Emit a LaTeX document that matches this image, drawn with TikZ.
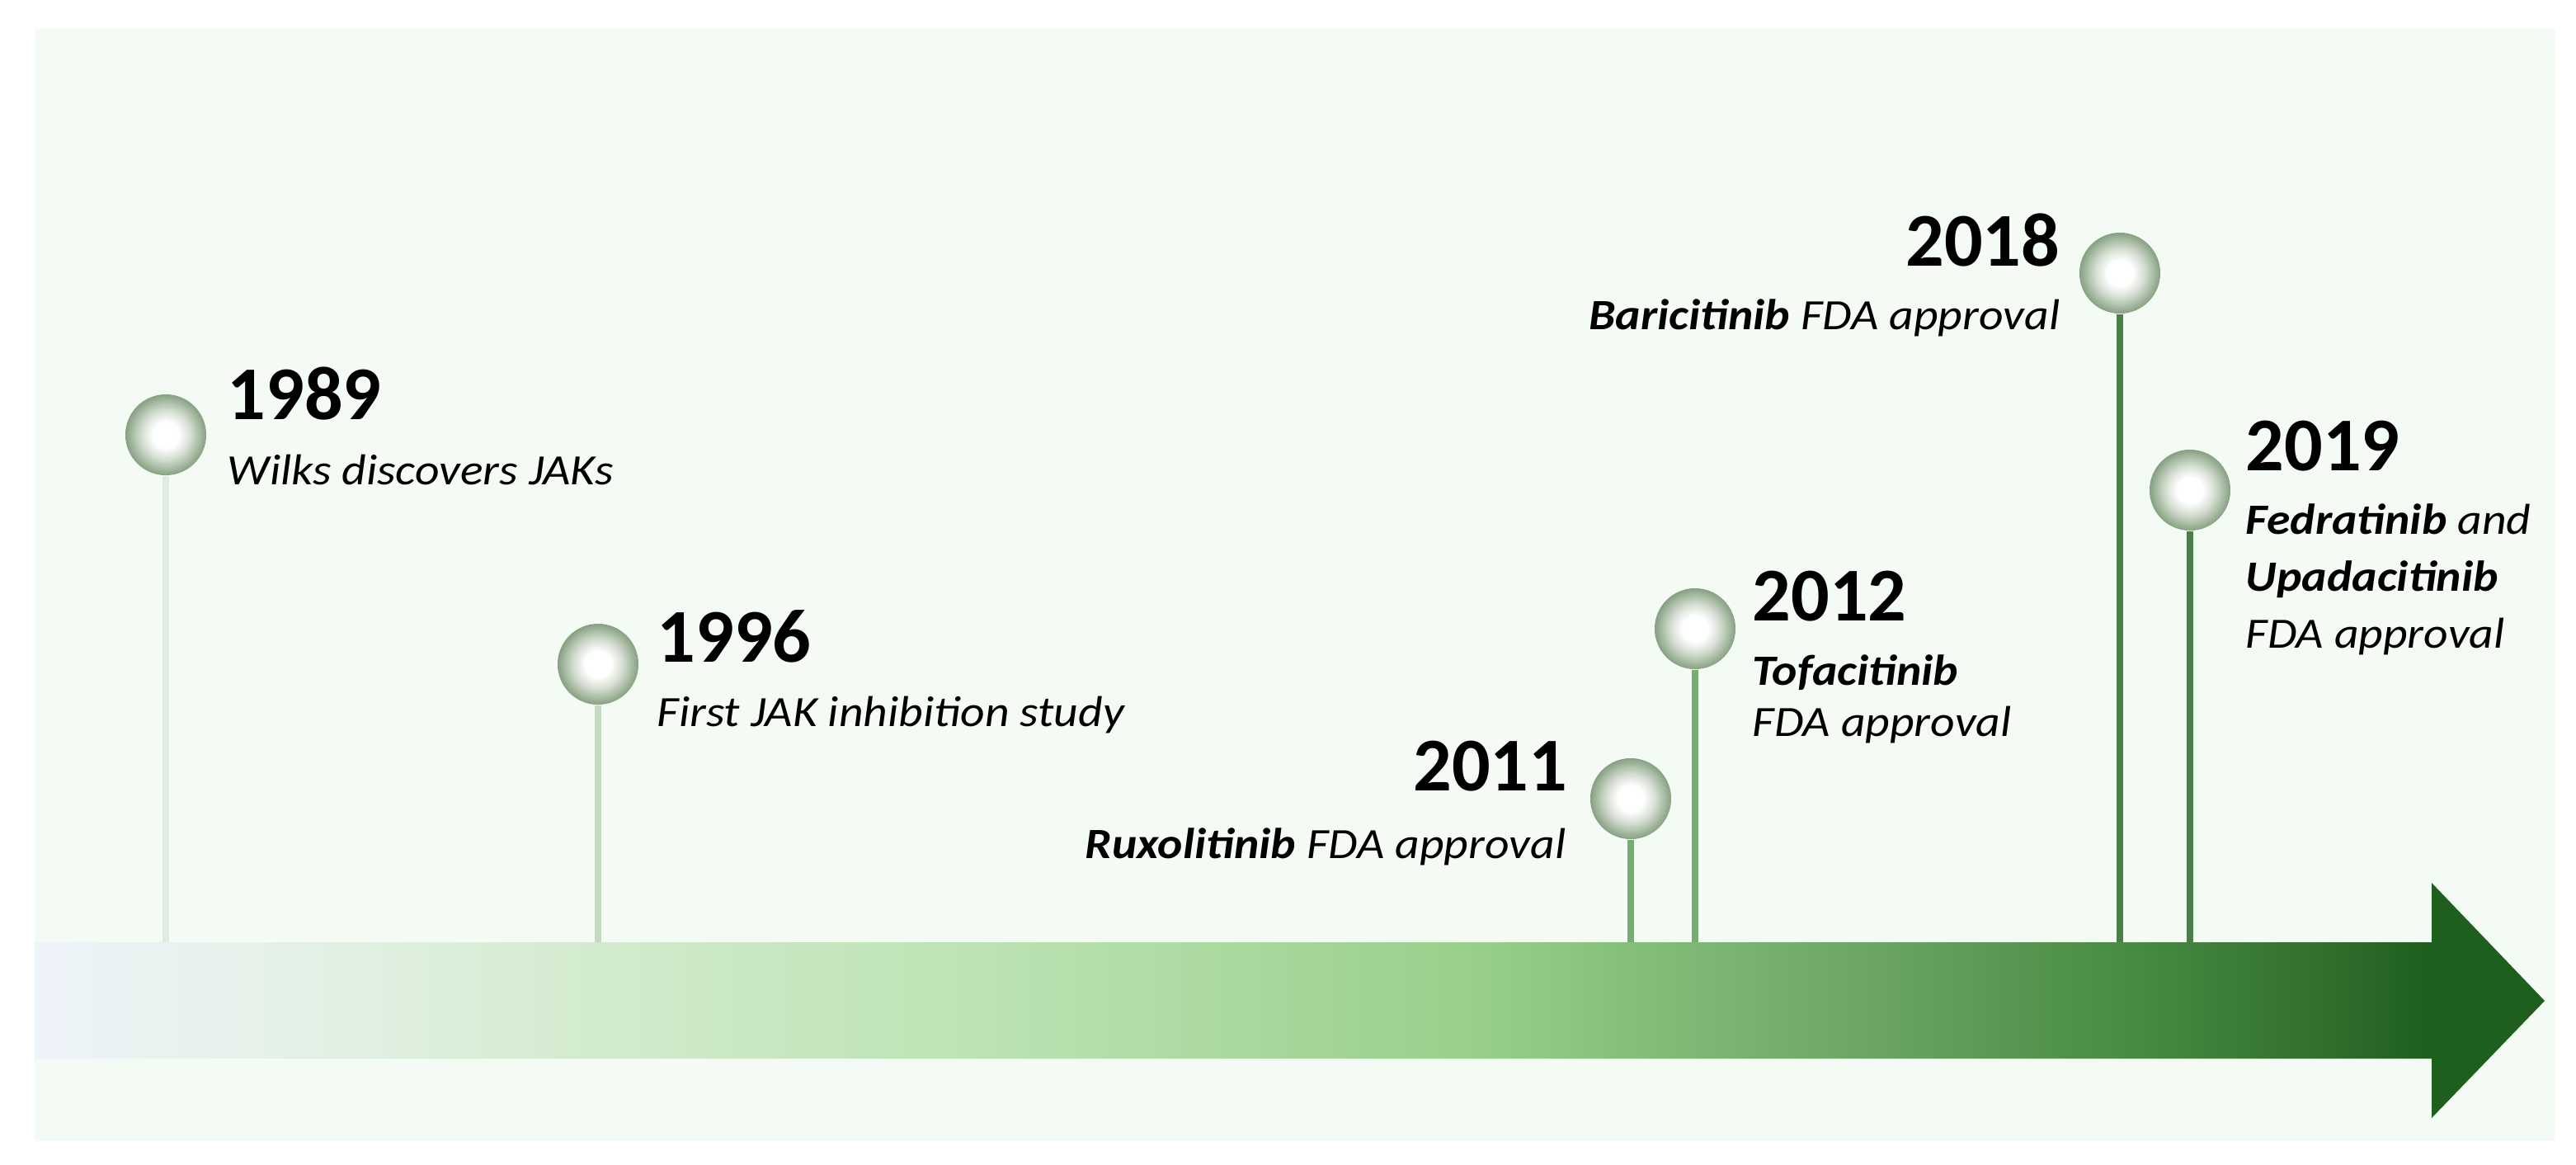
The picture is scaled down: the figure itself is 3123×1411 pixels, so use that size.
\documentclass[tikz,border=0pt]{standalone}
\usepackage{fontspec}
\setmainfont{Carlito}
\newfontfamily\subfont[FakeStretch=1.1]{Carlito}
\definecolor{panelbg}{HTML}{F4FBF4}
\definecolor{ballmid}{HTML}{D6DFD3}
\definecolor{ballout}{HTML}{A6BAA2}
\definecolor{balledge}{HTML}{86A082}
\definecolor{ar0}{HTML}{EEF3F9}
\definecolor{ar1}{HTML}{E2F0E4}
\definecolor{ar2}{HTML}{D3EBCF}
\definecolor{ar3}{HTML}{BCE2B3}
\definecolor{ar4}{HTML}{97CF89}
\definecolor{ar5}{HTML}{82BE78}
\definecolor{ar6}{HTML}{68A361}
\definecolor{ar7}{HTML}{468A40}
\definecolor{ar8}{HTML}{33722F}
\definecolor{ar9}{HTML}{1F5F1E}
\definecolor{stemA}{HTML}{E2EBE2}
\definecolor{stemB}{HTML}{C2DDBE}
\definecolor{stemC}{HTML}{78AC70}
\definecolor{stemD}{HTML}{4B7F47}
\pgfdeclareradialshading{ballshade}{\pgfpoint{0bp}{0bp}}{color(0bp)=(white); color(8bp)=(white); color(15bp)=(ballmid); color(21bp)=(ballout); color(25bp)=(balledge); color(50bp)=(balledge)}
\pgfdeclarehorizontalshading{arrowshade}{100bp}{color(0bp)=(ar0); color(25bp)=(ar0); color(30.9bp)=(ar1); color(35.8bp)=(ar2); color(44bp)=(ar3); color(53.8bp)=(ar4); color(57.1bp)=(ar5); color(62bp)=(ar6); color(67bp)=(ar7); color(70.2bp)=(ar8); color(72.7bp)=(ar9); color(100bp)=(ar9)}
\tikzset{
  ball/.style={circle, minimum size=0.98cm, inner sep=0pt, shade, shading=ballshade},
  yearst/.style={font=\fontsize{26.2}{30}\selectfont\bfseries, inner sep=0pt},
  subst/.style={font=\subfont\fontsize{14.9}{18}\selectfont\itshape, inner sep=0pt},
  stemline/.style={line width=0.08cm},
}
\begin{document}
\begin{tikzpicture}[x=0.01cm, y=-0.01cm]
\useasboundingbox (0,0) rectangle (3123,1411);
\fill[white] (0,0) rectangle (3123,1411);
\fill[panelbg] (42,35) rectangle (3098,1383);
% stems end points on the shaft
\coordinate (s1989) at (201,1142);
\coordinate (s1996) at (725,1142);
\coordinate (s2011) at (1977,1142);
\coordinate (s2012) at (2055,1142);
\coordinate (s2018) at (2570,1142);
\coordinate (s2019) at (2655,1142);
% balls
\node[ball] (b1989) at (201,527) {};
\node[ball] (b1996) at (725,805) {};
\node[ball] (b2011) at (1977,968) {};
\node[ball] (b2012) at (2055,762) {};
\node[ball] (b2018) at (2570,331) {};
\node[ball] (b2019) at (2655,594) {};
% stems
\draw[stemline, stemA] (b1989.south) -- (s1989);
\draw[stemline, stemB] (b1996.south) -- (s1996);
\draw[stemline, stemC] (b2011.south) -- (s2011);
\draw[stemline, stemC] (b2012.south) -- (s2012);
\draw[stemline, stemD] (b2018.south) -- (s2018);
\draw[stemline, stemD] (b2019.south) -- (s2019);
% arrow
\shade[shading=arrowshade] (42,1142) -- (2948,1142) -- (2948,1070) -- (3085,1213) -- (2948,1355) -- (2948,1283) -- (42,1283) -- cycle;
% texts
\node[yearst, anchor=base west] (y1989) at (275,508) {1989};
\node[subst, anchor=base west] (t1989) at (275,587) {Wilks discovers JAKs};
\node[yearst, anchor=base west] (y1996) at (796,802) {1996};
\node[subst, anchor=base west] (t1996) at (796,880) {First JAK inhibition study};
\node[yearst, anchor=base east] (y2011) at (1901,958) {2011};
\node[subst, anchor=base east] (t2011) at (1899,1040) {\textbf{Ruxolitinib} FDA approval};
\node[yearst, anchor=base west] (y2012) at (2124,752) {2012};
\node[subst, anchor=base west] (t2012a) at (2124,830) {\textbf{Tofacitinib}};
\node[subst, anchor=base west] (t2012b) at (2124,892) {FDA approval};
\node[yearst, anchor=base east] (y2018) at (2498,322) {2018};
\node[subst, anchor=base east] (t2018) at (2498,399) {\textbf{Baricitinib} FDA approval};
\node[yearst, anchor=base west] (y2019) at (2722,570) {2019};
\node[subst, anchor=base west] (t2019a) at (2722,647) {\textbf{Fedratinib} and};
\node[subst, anchor=base west] (t2019b) at (2722,716) {\textbf{Upadacitinib}};
\node[subst, anchor=base west] (t2019c) at (2722,785) {FDA approval};
\end{tikzpicture}
\end{document}
